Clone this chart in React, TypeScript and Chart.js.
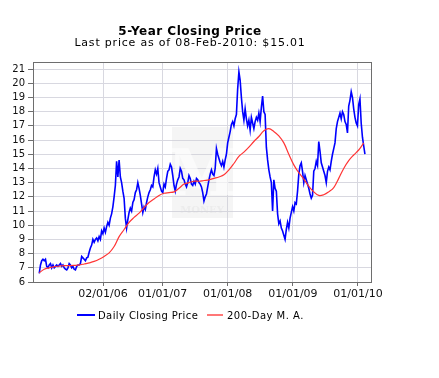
import React, { useEffect, useRef } from "react";
import { Chart, registerables } from "chart.js";

Chart.register(...registerables);

const titleText = "5-Year Closing Price";
const subtitleText = "Last price as of 08-Feb-2010: $15.01";
const seriesNames = ["Daily Closing Price", "200-Day M. A."];

// weekly closing prices starting 2005-02-08
const priceStart = "2005-02-08";
const priceStepDays = 7;
const closingPrice = [
  6.6, 7.2, 7.5, 7.6, 7.5, 7.6, 7.1, 7.0, 7.2, 7.3, 7.0, 7.2, 7.0, 7.1, 7.2, 7.1,
  7.2, 7.3, 7.1, 7.2, 7.0, 6.9, 6.85, 7.0, 7.3, 7.2, 7.0, 7.1, 6.9, 6.85, 7.1, 7.2,
  7.2, 7.3, 7.8, 7.7, 7.6, 7.5, 7.7, 7.75, 8.1, 8.4, 8.6, 9.0, 8.8, 9.0, 9.1, 8.9,
  9.2, 9.0, 9.6, 9.4, 9.8, 9.5, 9.9, 10.2, 10.0, 10.5, 10.8, 11.3, 12.0, 12.8, 14.5, 13.4,
  14.6, 13.4, 13.0, 12.4, 11.9, 10.5, 9.8, 10.4, 10.9, 11.2, 11.0, 11.6, 11.8, 12.3, 12.5, 13.0,
  12.6, 12.1, 11.5, 10.9, 11.3, 11.1, 11.6, 12.0, 12.3, 12.5, 12.8, 12.7, 13.4, 13.9, 13.6, 14.0,
  13.0, 12.7, 12.4, 12.3, 12.9, 12.7, 13.3, 13.8, 13.9, 14.3, 14.1, 13.5, 12.8, 12.4, 12.9, 13.2,
  13.4, 14.0, 13.8, 13.3, 13.2, 12.9, 12.7, 13.0, 13.5, 13.3, 12.9, 12.8, 13.1, 12.9, 13.3, 13.2,
  13.0, 12.9, 12.7, 12.3, 11.7, 12.0, 12.2, 12.7, 13.2, 13.6, 13.9, 13.6, 13.5, 14.0, 15.4, 15.0,
  14.7, 14.4, 14.2, 14.5, 14.1, 14.6, 15.0, 15.8, 16.2, 16.6, 17.1, 17.3, 17.0, 17.5, 17.8, 19.6,
  20.8, 20.2, 19.0, 18.0, 17.4, 18.2, 17.5, 17.0, 17.4, 16.7, 17.6, 17.2, 16.8, 17.3, 17.6, 17.4,
  17.9, 17.3, 18.3, 19.1, 18.0, 17.8, 15.5, 14.6, 13.9, 13.4, 13.0, 11.0, 13.2, 12.6, 12.4, 10.8,
  10.1, 10.3, 9.8, 9.6, 9.3, 9.0, 9.7, 10.2, 9.8, 10.5, 10.9, 11.3, 11.0, 11.6, 11.5, 12.4,
  13.6, 14.2, 14.4, 13.8, 13.0, 13.5, 13.2, 12.9, 12.6, 12.2, 11.9, 12.1, 13.8, 14.0, 14.5, 14.2,
  15.9, 15.2, 14.4, 14.1, 13.8, 13.5, 13.0, 13.8, 14.1, 13.9, 14.5, 15.0, 15.4, 15.8, 16.8, 17.3,
  17.6, 17.9, 17.5, 18.0, 17.8, 17.3, 17.1, 16.5, 18.4, 18.8, 19.4, 19.0, 18.2, 17.6, 17.2, 17.0,
  18.5, 18.9, 17.2, 16.2, 15.6, 15.01,
];

// 200-day moving average, sampled every 4 weeks from 2005-02-08
const maStart = "2005-02-08";
const maStepDays = 28;
const movingAverage = [
  6.65, 6.9, 7.0, 7.08, 7.12, 7.15, 7.15, 7.17, 7.2, 7.27, 7.35, 7.45, 7.6, 7.8, 8.05, 8.5,
  9.2, 9.7, 10.2, 10.55, 10.85, 11.25, 11.6, 11.85, 12.1, 12.25, 12.3, 12.35, 12.6, 12.9, 13.0, 13.1,
  13.1, 13.15, 13.2, 13.3, 13.4, 13.55, 13.9, 14.35, 14.85, 15.15, 15.5, 15.9, 16.25, 16.65, 16.8, 16.6,
  16.3, 15.8, 15.0, 14.25, 13.7, 13.25, 12.75, 12.35, 12.1, 12.15, 12.35, 12.65, 13.3, 14.0, 14.55, 14.95,
  15.3, 15.8,
];

const tickDates = ["2006-02-01", "2007-01-01", "2008-01-01", "2009-01-01", "2010-01-01"];
const tickLabels = ["02/01/06", "01/01/07", "01/01/08", "01/01/09", "01/01/10"];
const axisStart = "2005-01-04";
const axisEnd = "2010-03-15";
const yTickValues = [6, 7, 8, 9, 10, 11, 12, 13, 14, 15, 16, 17, 18, 19, 20, 21];
const yMin = 6;
const yMax = 21.5;

const dayNum = (s: string) =>
  Date.UTC(+s.slice(0, 4), +s.slice(5, 7) - 1, +s.slice(8, 10)) / 86400000;

const FONT = "'DejaVu Sans', 'Liberation Sans', sans-serif";
const BLUE = "#0000ff";
const RED = "#ff3535";
const GRID = "#d8d8e0";
const BORDER = "#6e6e6e";

function drawText(
  ctx: CanvasRenderingContext2D,
  text: string,
  x: number,
  y: number,
  font: string,
  align: CanvasTextAlign,
  spacing: number
) {
  ctx.save();
  ctx.font = font;
  ctx.fillStyle = "#000";
  ctx.textAlign = align;
  ctx.textBaseline = "alphabetic";
  (ctx as any).letterSpacing = spacing + "px";
  ctx.fillText(text, x, y);
  ctx.restore();
}

const decorPlugin = {
  id: "decor",
  beforeDatasetsDraw(chart: any) {
    const ctx: CanvasRenderingContext2D = chart.ctx;
    // faint watermark
    ctx.save();
    ctx.fillStyle = "rgba(210,210,210,0.22)";
    ctx.fillRect(172, 127, 61, 91);
    ctx.fillStyle = "rgba(255,255,255,0.6)";
    ctx.font = "bold 64px 'DejaVu Serif', serif";
    ctx.textAlign = "center";
    ctx.textBaseline = "alphabetic";
    ctx.fillText("M", 202, 195);
    ctx.font = "bold 10px 'DejaVu Serif', serif";
    ctx.fillStyle = "rgba(215,215,215,0.3)";
    ctx.fillText("MONEY", 202, 213);
    ctx.restore();
  },
  afterDatasetsDraw(chart: any) {
    const ctx: CanvasRenderingContext2D = chart.ctx;
    const a = chart.chartArea;
    ctx.save();
    ctx.strokeStyle = BORDER;
    ctx.lineWidth = 1;
    ctx.strokeRect(Math.round(a.left) + 0.5, Math.round(a.top) + 0.5, Math.round(a.right - a.left), Math.round(a.bottom - a.top));
    ctx.restore();
  },
  afterDraw(chart: any) {
    const ctx: CanvasRenderingContext2D = chart.ctx;
    drawText(ctx, titleText, 190, 35, `bold 12px ${FONT}`, "center", 0.5);
    drawText(ctx, subtitleText, 190, 46, `11px ${FONT}`, "center", 0.8);
    // legend
    ctx.save();
    ctx.lineWidth = 2;
    ctx.strokeStyle = BLUE;
    ctx.beginPath();
    ctx.moveTo(77, 315);
    ctx.lineTo(95, 315);
    ctx.stroke();
    ctx.strokeStyle = "#ff7777";
    ctx.beginPath();
    ctx.moveTo(207, 315);
    ctx.lineTo(223, 315);
    ctx.stroke();
    ctx.restore();
    drawText(ctx, seriesNames[0], 98, 319, `10px ${FONT}`, "left", 0.4);
    drawText(ctx, seriesNames[1], 227, 319, `10px ${FONT}`, "left", 0.5);
  },
};

export default function App() {
  const ref = useRef<HTMLCanvasElement>(null);
  useEffect(() => {
    if (!ref.current) return;
    const p0 = dayNum(priceStart);
    const m0 = dayNum(maStart);
    const tickDays = tickDates.map(dayNum);
    const chart = new Chart(ref.current, {
      type: "line",
      data: {
        datasets: [
          {
            label: seriesNames[0],
            data: closingPrice.map((v, i) => ({ x: p0 + i * priceStepDays, y: v })),
            borderColor: BLUE,
            borderWidth: 1.6,
            pointRadius: 0,
            tension: 0,
            order: 1,
          },
          {
            label: seriesNames[1],
            data: movingAverage.map((v, i) => ({ x: m0 + i * maStepDays, y: v })),
            borderColor: RED,
            borderWidth: 1.2,
            pointRadius: 0,
            tension: 0.4,
            order: 0,
          },
        ],
      },
      options: {
        animation: false,
        responsive: false,
        devicePixelRatio: 1,
        layout: { padding: { top: 62, left: 0, right: 68, bottom: 76 } },
        plugins: { legend: { display: false }, title: { display: false }, tooltip: { enabled: false } },
        scales: {
          x: {
            type: "linear",
            min: dayNum(axisStart),
            max: dayNum(axisEnd),
            afterBuildTicks: (s: any) => {
              s.ticks = tickDays.map((v) => ({ value: v }));
            },
            afterFit: (s: any) => {
              s.height = 20;
            },
            ticks: {
              autoSkip: false,
              maxRotation: 0,
              padding: 2,
              color: "#111",
              font: { family: FONT, size: 11 },
              callback: (v: any) => {
                const k = tickDays.indexOf(v);
                return k >= 0 ? tickLabels[k] : "";
              },
            },
            grid: { color: GRID, tickColor: BORDER, tickLength: 4 },
            border: { display: false },
          },
          y: {
            min: yMin,
            max: yMax,
            afterBuildTicks: (s: any) => {
              s.ticks = yTickValues.map((v) => ({ value: v }));
            },
            afterFit: (s: any) => {
              s.width = 33;
            },
            ticks: {
              autoSkip: false,
              padding: 3,
              color: "#111",
              font: { family: FONT, size: 10 },
            },
            grid: { color: GRID, tickColor: BORDER, tickLength: 5 },
            border: { display: false },
          },
        },
      },
      plugins: [decorPlugin],
    } as any);
    return () => chart.destroy();
  }, []);
  return (
    <div style={{ position: "fixed", left: 0, top: 0, width: 439, height: 378, background: "#fff" }}>
      <canvas ref={ref} width={439} height={378} style={{ display: "block", width: 439, height: 378 }} />
    </div>
  );
}
